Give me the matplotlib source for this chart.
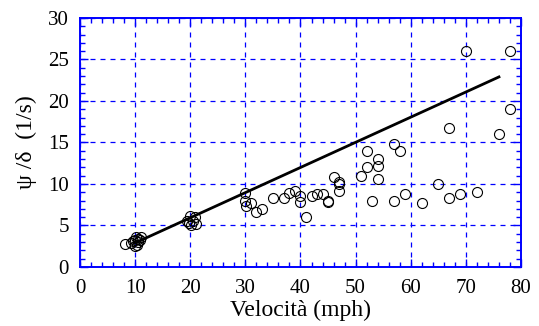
import matplotlib.pyplot as plt
from matplotlib.ticker import MultipleLocator

# velocità (mph) e psi/delta (1/s)
vel = [8.2, 9.3, 9.6, 10.0, 10.2, 10.5, 10.8, 10.3, 9.9, 11.0, 10.6,
       19.5, 20.0, 20.2, 21.0, 20.5, 19.8, 20.8,
       30.0, 30.0, 30.2, 31.0, 32.0, 33.0, 35.0, 37.0, 38.0, 39.0, 40.0, 40.0,
       41.0, 42.0, 43.0, 44.0, 45.0, 45.0, 46.0, 47.0, 47.0, 47.0,
       51.0, 52.0, 52.0, 53.0, 54.0, 54.0, 54.0, 57.0, 57.0, 58.0, 59.0,
       62.0, 65.0, 67.0, 67.0, 69.0, 70.0, 72.0, 76.0, 78.0, 78.0]
psi = [2.8, 2.9, 3.1, 3.3, 3.6, 3.4, 3.3, 2.7, 2.5, 3.6, 3.0,
       5.5, 6.1, 5.0, 5.2, 5.6, 5.3, 6.0,
       8.9, 7.9, 7.3, 7.7, 6.6, 7.0, 8.3, 8.3, 8.9, 9.1, 8.6, 7.8,
       6.0, 8.6, 8.8, 8.8, 8.0, 7.8, 10.8, 10.2, 10.0, 9.1,
       11.0, 12.0, 14.0, 8.0, 13.0, 12.2, 10.6, 14.8, 8.0, 14.0, 8.8,
       7.7, 10.0, 16.7, 8.35, 8.8, 26.0, 9.0, 16.0, 26.0, 19.0]

# retta di regressione
fit_x = [10, 76]
fit_y = [2.9, 22.9]

serif = ['Liberation Serif', 'DejaVu Serif']
blue = '#0000ff'

fig = plt.figure(figsize=(5.39, 3.26), dpi=100)
ax = fig.add_axes([0.1484, 0.181, 0.8182, 0.7638])

ax.plot(fit_x, fit_y, color='black', lw=2.0, zorder=3)
ax.plot(vel, psi, 'o', ms=7.2, mfc='none', mec='black', mew=0.8, zorder=4)

ax.set_xlim(0, 80)
ax.set_ylim(0, 30)
ax.xaxis.set_major_locator(MultipleLocator(10))
ax.xaxis.set_minor_locator(MultipleLocator(2))
ax.yaxis.set_major_locator(MultipleLocator(5))
ax.yaxis.set_minor_locator(MultipleLocator(1))

ax.grid(True, which='major', color=blue, ls=(0, (4, 4)), lw=0.9)
for s in ax.spines.values():
    s.set_color(blue)
    s.set_linewidth(1.4)

ax.tick_params(which='both', direction='in', top=True, right=True,
               color=blue, labelcolor='black')
ax.tick_params(axis='x', pad=9)
ax.tick_params(axis='y', pad=8)
ax.tick_params(which='major', length=6, width=1)
ax.tick_params(which='minor', length=3.5, width=1)
for lab in ax.get_xticklabels() + ax.get_yticklabels():
    lab.set_family(serif)
    lab.set_fontsize(15)

ax.set_xlabel('Velocità (mph)', family=serif, fontsize=17, labelpad=1)
ax.set_ylabel('ψ /δ  (1/s)', family=serif, fontsize=17, labelpad=8)

fig.savefig('out.png', dpi=100)
